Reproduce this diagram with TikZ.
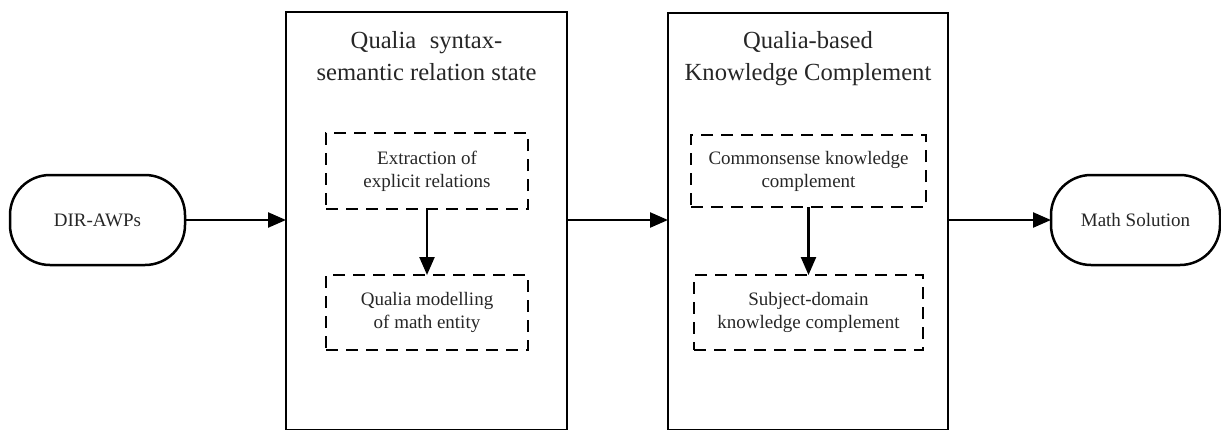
\documentclass[tikz,border=0pt]{standalone}
\usepackage{fontspec}
\setmainfont{Liberation Serif}
\usetikzlibrary{arrows.meta}
\begin{document}
\begin{tikzpicture}[x=1pt,y=-1pt,
  every node/.style={inner sep=0pt,outer sep=0pt},
  term/.style={draw,line width=2.5pt,rounded corners=40pt,font=\fontsize{19}{23}\selectfont,text=black!85},
  stage/.style={draw,line width=2.8pt},
  sub/.style={draw,line width=2.5pt,dash pattern=on 12pt off 8pt,align=center,font=\fontsize{19}{23}\selectfont,text=black!85},
  ttl/.style={align=center,font=\fontsize{24.6}{32}\selectfont,text=black!85},
  arr/.style={line width=2.4pt,-{Triangle[length=18pt,width=15pt]}}]
\useasboundingbox (0,0) rectangle (1221,429);
\node[term,minimum width=175pt,minimum height=90pt] (dir) at (97.5,220) {DIR-AWPs};
\node[stage,minimum width=281pt,minimum height=418pt] (box1) at (426.5,221) {};
\node[ttl] (t1) at (426.5,56) {Qualia\hspace{0.55em}syntax-\\semantic relation state};
\node[sub,minimum width=202pt,minimum height=76pt] (e1) at (427,171) {Extraction of\\explicit relations};
\node[sub,minimum width=202pt,minimum height=75pt] (e2) at (427,312.5) {Qualia modelling\\of math entity};
\node[stage,minimum width=280pt,minimum height=417pt] (box2) at (808,221.5) {};
\node[ttl] (t2) at (808,59) {Qualia-based\\Knowledge Complement};
\node[sub,minimum width=235pt,minimum height=72pt] (c1) at (808.5,171) {Commonsense knowledge\\complement};
\node[sub,minimum width=229pt,minimum height=75pt] (c2) at (808.5,312.5) {Subject-domain\\knowledge complement};
\node[term,minimum width=169pt,minimum height=90pt] (math) at (1135.5,220) {Math Solution};
\draw[arr] (dir.east) -- (dir.east -| box1.west);
\draw[arr] (dir.east -| box1.east) -- (dir.east -| box2.west);
\draw[arr] (dir.east -| box2.east) -- (math.west);
\draw[arr] (e1.south) -- (e2.north);
\draw[arr] (c1.south) -- (c2.north);
\end{tikzpicture}
\end{document}
